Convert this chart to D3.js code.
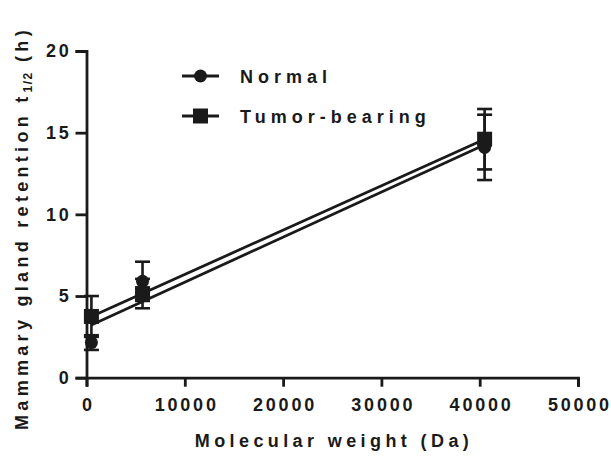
<!DOCTYPE html>
<html><head><meta charset="utf-8">
<script src="https://cdn.jsdelivr.net/npm/d3@7"></script>
<style>body{margin:0;background:#fff}text{font-family:"Liberation Sans",Arial,sans-serif;font-weight:bold;fill:#1a1a1a}</style>
</head><body><svg id="c" width="611" height="458"></svg>
<script>
const molWeight = [500, 5700, 40500];
const normalMean = [2.15, 5.9, 14.1];
const normalErr = [0.45, 1.2, 2.0];
const tumorMean = [3.75, 5.15, 14.6];
const tumorErr = [1.25, 0.9, 1.85];
const xTicks = [0, 10000, 20000, 30000, 40000, 50000];
const yTicks = [0, 5, 10, 15, 20];
const seriesNames = ["Normal", "Tumor-bearing"];

const svg = d3.select("#c");
const x = d3.scaleLinear().domain([0, 50000]).range([86.5, 578]);
const y = d3.scaleLinear().domain([0, 20]).range([377.7, 51]);
const col = "#1a1a1a";
const tickSp = 2.8;

const xAxis = svg.append("g").attr("transform", "translate(0,377.7)")
  .call(d3.axisBottom(x).tickValues(xTicks).tickSize(9).tickFormat(d3.format("d")));
const yAxis = svg.append("g").attr("transform", "translate(86.5,0)")
  .call(d3.axisLeft(y).tickValues(yTicks).tickSize(11));
[xAxis, yAxis].forEach(g => {
  g.select(".domain").attr("stroke", col).attr("stroke-width", 2.8);
  g.selectAll(".tick line").attr("stroke", col).attr("stroke-width", 2.8);
  g.selectAll("text").style("font-size", "18px").style("letter-spacing", tickSp + "px")
   .style("font-family", "Liberation Sans, Arial").style("font-weight", "bold").attr("fill", col);
});
xAxis.selectAll("text").attr("y", 33.5).attr("dy", 0).attr("dx", tickSp / 2);
yAxis.selectAll("text").attr("x", -15);

function regress(xs, ys) {
  const mx = d3.mean(xs), my = d3.mean(ys);
  let sxy = 0, sxx = 0;
  xs.forEach((v, i) => { sxy += (v - mx) * (ys[i] - my); sxx += (v - mx) ** 2; });
  const b = sxy / sxx; return [b, my - b * mx];
}
const series = [
  {name: seriesNames[0], mean: normalMean, err: normalErr, shape: "circle"},
  {name: seriesNames[1], mean: tumorMean, err: tumorErr, shape: "square"}
];
series.forEach(s => {
  const [b, a] = regress(molWeight, s.mean);
  const x0 = d3.min(molWeight), x1 = d3.max(molWeight);
  svg.append("line").attr("x1", x(x0)).attr("x2", x(x1))
    .attr("y1", y(a + b * x0)).attr("y2", y(a + b * x1))
    .attr("stroke", col).attr("stroke-width", 2.8);
});
series.forEach(s => {
  molWeight.forEach((mw, i) => {
    const cx = x(mw), lo = y(s.mean[i] - s.err[i]), hi = y(s.mean[i] + s.err[i]);
    svg.append("line").attr("x1", cx).attr("x2", cx).attr("y1", lo).attr("y2", hi).attr("stroke", col).attr("stroke-width", 2.6);
    [lo, hi].forEach(yy => svg.append("line").attr("x1", cx - 7.5).attr("x2", cx + 7.5).attr("y1", yy).attr("y2", yy).attr("stroke", col).attr("stroke-width", 2.6));
  });
});
function marker(g, shape, cx, cy) {
  if (shape === "circle") g.append("circle").attr("cx", cx).attr("cy", cy).attr("r", 6.5).attr("fill", col);
  else g.append("rect").attr("x", cx - 7.5).attr("y", cy - 7.5).attr("width", 15).attr("height", 15).attr("fill", col);
}
series.forEach(s => molWeight.forEach((mw, i) => marker(svg, s.shape, x(mw), y(s.mean[i]))));

// legend
series.forEach((s, i) => {
  const ly = 76 + i * 40;
  svg.append("line").attr("x1", 182).attr("x2", 219).attr("y1", ly).attr("y2", ly).attr("stroke", col).attr("stroke-width", 2.8);
  marker(svg, s.shape, 200.5, ly);
  svg.append("text").attr("x", 240).attr("y", ly + 6.5).style("font-size", "18px").style("letter-spacing", "5px").text(s.name);
});

// axis titles
svg.append("text").attr("x", 334).attr("y", 447).attr("text-anchor", "middle")
  .style("font-size", "18px").style("letter-spacing", "4.4px").text("Molecular weight (Da)");
const yt = svg.append("text").attr("transform", "translate(28,228) rotate(-90)").attr("text-anchor", "middle")
  .style("font-size", "18px").style("letter-spacing", "4.3px");
yt.append("tspan").text("Mammary gland retention t");
yt.append("tspan").attr("dy", 4).style("font-size", "12px").style("letter-spacing", "1.5px").text("1/2");
yt.append("tspan").attr("dy", -4).text(" (h)");
</script></body></html>
